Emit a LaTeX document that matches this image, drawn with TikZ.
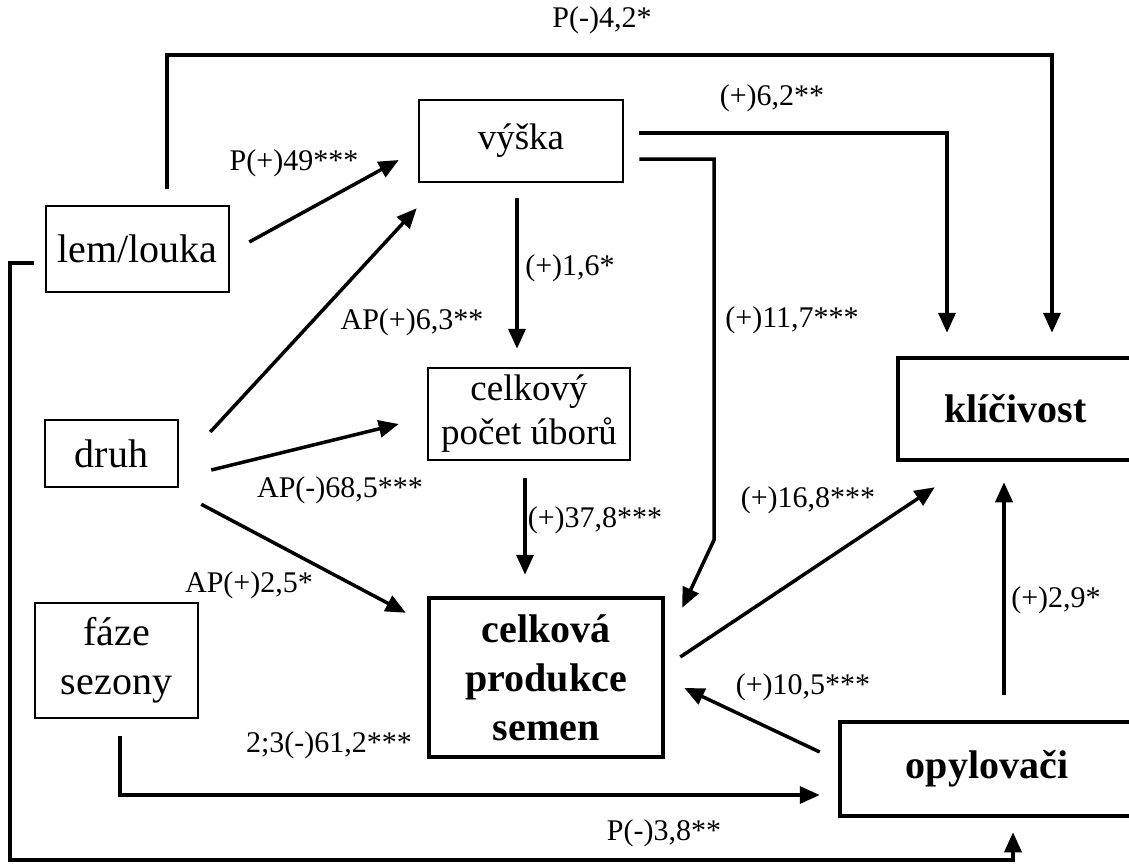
\documentclass[tikz,border=0pt]{standalone}
\usepackage{fontspec}
\setmainfont{Liberation Serif}
\usetikzlibrary{arrows.meta,calc}

\begin{document}
\begin{tikzpicture}[x=1pt,y=-1pt]
  \tikzset{box/.style = {shape=rectangle,draw,line width=2.5pt,inner sep=2pt,align=center,font=\fontsize{40}{49}\selectfont}}
  \tikzset{mainbox/.style = {box,line width=4.5pt,font=\fontsize{40}{49}\selectfont\bfseries}}
  \tikzset{smallbox/.style = {box,font=\fontsize{37}{44}\selectfont}}
  \tikzset{lbl/.style = {inner sep=0pt,font=\fontsize{30}{36}\selectfont}}
  \tikzset{link/.style = {line width=3.5pt,-{Triangle[length=20pt,width=17pt]}}}

  \useasboundingbox (0,0) rectangle (1129,865);

	\node[box,minimum width=183pt,minimum height=86pt] (lem) at (137.5,249) {lem/louka};
	\node[box,minimum width=133pt,minimum height=67pt] (druh) at (111.5,453.5) {druh};
	\node[box,minimum width=163pt,minimum height=115pt] (faze) at (116.5,660.5) {fáze\\sezony};

	\node[smallbox,minimum width=204pt,minimum height=82pt] (vys) at (521,141) {výška};
	\node[smallbox,minimum width=202pt,minimum height=92pt] (cel) at (529,414) {celkový\\počet úborů};

	\node[mainbox,minimum width=234pt,minimum height=159pt] (prod) at (546,677.5) {celková\\produkce\\semen};
	\node[mainbox,minimum width=235pt,minimum height=102pt] (kli) at (1015.5,409) {klíčivost};
	\node[mainbox,minimum width=294pt,minimum height=94pt] (opy) at (987,769) {opylovači};

	\coordinate (top) at (600,55);
	\coordinate (bend) at (714,540);
	\coordinate (bottom) at (10,860);

	% long ways round
	\draw[link] ($(lem.north)+(29.5,-16)$) |- (top) -| ($(kli.north)+(36.5,-23)$);
	\draw[link] ($(vys.east)+(15,-8)$) -| ($(kli.north)+(-68.5,-23)$);
	\draw[link] ($(vys.east)+(15,18)$) -| (bend) -- ($(prod.north east)+(17,12)$);
	\draw[link] ($(faze.south)+(3.5,17)$) |- ($(opy.west)+(-18,26)$);
	\draw[link] ($(lem.west)+(-11,14)$) -| (bottom) -| ($(opy.south)+(26,14)$);

	% straight ones
	\draw[link] ($(lem.east)+(19,-7)$) -- ($(vys.west)+(-19,19)$);
	\draw[link] ($(vys.south)+(-4,15)$) -- ($(cel.north)+(-12,-18)$);
	\draw[link] ($(druh.east)+(31,-21.5)$) -- ($(vys.south west)+(-1,25)$);
	\draw[link] ($(druh.east)+(32,16.5)$) -- ($(cel.west)+(-28,10)$);
	\draw[link] ($(druh.south east)+(22,16)$) -- ($(prod.north west)+(-21,17)$);
	\draw[link] ($(cel.south)+(-4,17)$) -- ($(prod.north)+(-21,-21)$);
	\draw[link] ($(prod.east)+(15,-20.5)$) -- ($(kli.south west)+(39,25)$);
	\draw[link] ($(opy.west)+(-18,-17)$) -- ($(prod.east)+(19,10.5)$);
	\draw[link] ($(opy.north)+(17,-25)$) -- ($(kli.south)+(-11.5,20)$);

	\node[lbl] (l42) at (602,20) {P(-)4,2*};
	\node[lbl] (l49) at (294,163) {P(+)49***};
	\node[lbl] (l62) at (772,98) {(+)6,2**};
	\node[lbl] (l16) at (570,268) {(+)1,6*};
	\node[lbl] (l63) at (412,322) {AP(+)6,3**};
	\node[lbl] (l117) at (792,320) {(+)11,7***};
	\node[lbl] (l685) at (340,490) {AP(-)68,5***};
	\node[lbl] (l378) at (595,520) {(+)37,8***};
	\node[lbl] (l168) at (808,500) {(+)16,8***};
	\node[lbl] (l25) at (249,585) {AP(+)2,5*};
	\node[lbl] (l29) at (1056,600) {(+)2,9*};
	\node[lbl] (l105) at (803,687) {(+)10,5***};
	\node[lbl] (l612) at (329,745) {2;3(-)61,2***};
	\node[lbl] (l38) at (664,833) {P(-)3,8**};

\end{tikzpicture}
\end{document}
